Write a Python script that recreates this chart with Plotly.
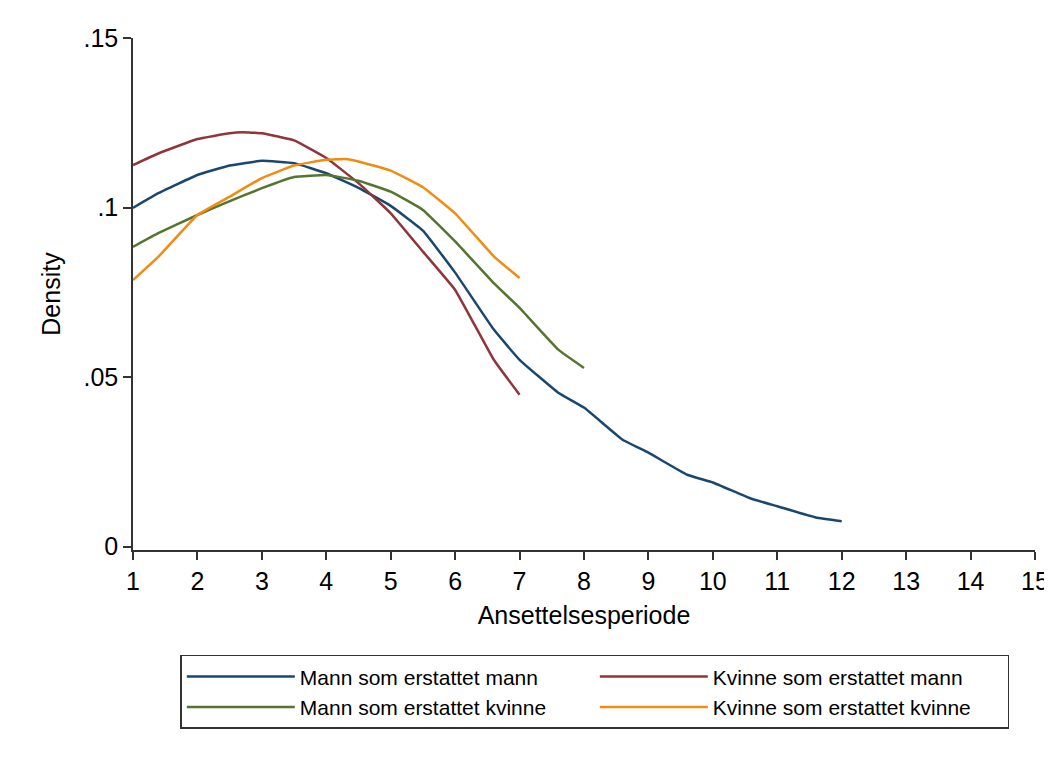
import plotly.graph_objects as go

# Data (kernel density estimates)
x_mm = [1, 1.4, 2, 2.5, 3, 3.5, 4, 4.5, 5, 5.5, 6, 6.6, 7, 7.6, 8, 8.6, 9, 9.6, 10, 10.6, 11, 11.6, 12]
y_mm = [0.0999, 0.1043, 0.1096, 0.1124, 0.1138, 0.1131, 0.1101, 0.1058, 0.1005, 0.0932, 0.0808, 0.0640,
        0.0551, 0.0454, 0.0410, 0.0315, 0.0277, 0.0212, 0.0189, 0.0141, 0.0119, 0.0086, 0.0075]

x_km = [1, 1.4, 2, 2.5, 2.7, 3, 3.5, 4, 4.5, 5, 5.5, 6, 6.6, 7]
y_km = [0.1125, 0.1160, 0.1202, 0.1219, 0.1222, 0.1219, 0.1198, 0.1146, 0.1072, 0.0983, 0.0870, 0.0757, 0.0551, 0.0448]

x_mk = [1, 1.4, 2, 2.4, 3, 3.5, 4, 4.5, 5, 5.5, 6, 6.6, 7, 7.6, 8]
y_mk = [0.0884, 0.0925, 0.0978, 0.1011, 0.1057, 0.1090, 0.1096, 0.1079, 0.1047, 0.0993, 0.0900, 0.0777,
        0.0704, 0.0581, 0.0527]

x_kk = [1, 1.4, 2, 2.5, 3, 3.5, 4, 4.3, 4.5, 5, 5.5, 6, 6.6, 7]
y_kk = [0.0786, 0.0856, 0.0978, 0.1032, 0.1087, 0.1124, 0.1141, 0.1143, 0.1136, 0.1109, 0.1060, 0.0983,
        0.0856, 0.0792]

series = [
    ("Mann som erstattet mann", x_mm, y_mm, "#1a476f"),
    ("Kvinne som erstattet mann", x_km, y_km, "#90353b"),
    ("Mann som erstattet kvinne", x_mk, y_mk, "#55752f"),
    ("Kvinne som erstattet kvinne", x_kk, y_kk, "#f08c12"),
]

x_ticks = list(range(1, 16))
y_ticks = [0, 0.05, 0.1, 0.15]
y_labels = ["0", ".05", ".1", ".15"]

fig = go.Figure()
for name, xs, ys, col in series:
    fig.add_trace(go.Scatter(x=xs, y=ys, mode="lines", name=name,
                             line=dict(color=col, width=2.5, shape="spline", smoothing=0.3)))

font = "Arial, Liberation Sans, sans-serif"
fig.update_layout(
    width=1044, height=740,
    margin=dict(l=125, r=17, t=30, b=198, autoexpand=False),
    paper_bgcolor="white", plot_bgcolor="white",
    font=dict(family=font, size=24, color="black"),
    showlegend=True,
    legend=dict(
        orientation="h", x=0.512, xanchor="center", y=-0.205, yanchor="top",
        bordercolor="#333333", borderwidth=1.5,
        font=dict(size=21), entrywidth=290, entrywidthmode="pixels",
        itemwidth=108,
    ),
    xaxis=dict(
        range=[1, 15], tickvals=x_ticks, showgrid=False, zeroline=False, automargin=False,
        showline=True, linecolor="#333333", linewidth=1.5,
        ticks="outside", ticklen=8, tickwidth=1.5, tickcolor="#333333",
        title=dict(text="Ansettelsesperiode", standoff=13, font=dict(size=25)),
        tickfont=dict(size=25),
    ),
    yaxis=dict(
        range=[-0.001, 0.15], tickvals=y_ticks, ticktext=y_labels, showgrid=False, zeroline=False,
        automargin=False,
        showline=True, linecolor="#333333", linewidth=1.5,
        ticks="outside", ticklen=8, tickwidth=1.5, tickcolor="#333333",
        title=dict(text="Density", standoff=16, font=dict(size=25)),
        tickfont=dict(size=25),
    ),
)

fig.write_html("out.html")
